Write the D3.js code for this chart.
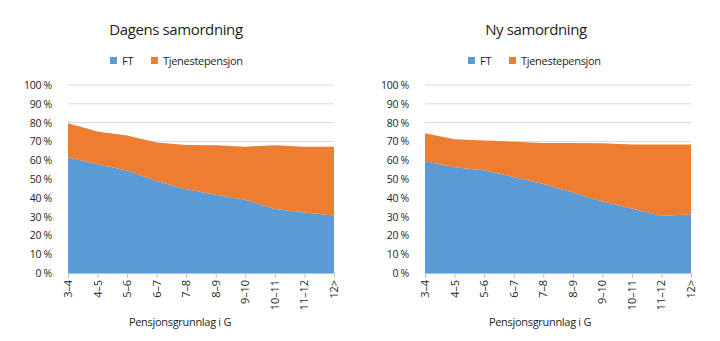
<!DOCTYPE html>
<html lang="no">
<head>
<meta charset="utf-8">
<title>Samordning</title>
<script src="https://cdn.jsdelivr.net/npm/d3@7"></script>
<style>
  body { margin: 0; background: #fff; }
  text { font-family: "Open Sans", "Noto Sans", sans-serif; fill: #231f20; }
</style>
</head>
<body>
<script>

var categories = ["3–4", "4–5", "5–6", "6–7", "7–8", "8–9", "9–10", "10–11", "11–12", "12>"];
var yTicks = [0, 10, 20, 30, 40, 50, 60, 70, 80, 90, 100];

// Dagens samordning
var ftDagens = [61.6, 57.9, 54.5, 49.0, 44.6, 41.6, 38.9, 34.1, 32.2, 30.6];
var tpDagens = [18.1, 17.3, 18.6, 20.4, 23.5, 26.3, 28.3, 33.9, 35.0, 36.6];

// Ny samordning
var ftNy = [59.5, 56.3, 54.7, 51.1, 47.3, 42.8, 38.0, 34.3, 30.4, 31.1];
var tpNy = [14.8, 14.9, 15.8, 18.7, 21.8, 26.3, 31.0, 34.1, 38.0, 37.3];

var seriesNames = ["FT", "Tjenestepensjon"];
var colors = ["#5b9bd5", "#ed7d31"];

var width = 720, height = 341;

var svg = d3.select("body").append("svg")
            .attr("width", width)
            .attr("height", height);

function drawPanel(opts) {
  var g = svg.append("g");

  var x = d3.scalePoint().domain(categories).range([opts.left, opts.right]);
  var y = d3.scaleLinear().domain([0, 100]).range([273, 85]);

  // gridlines
  g.selectAll("line.grid")
   .data(yTicks.slice(1))
   .enter().append("line")
   .attr("x1", opts.left).attr("x2", opts.right)
   .attr("y1", function(d) { return y(d); })
   .attr("y2", function(d) { return y(d); })
   .attr("stroke", "#d9d9d9")
   .attr("stroke-width", 1);

  var rows = categories.map(function(c, i) {
    return { cat: c, FT: opts.ft[i], Tjenestepensjon: opts.tp[i] };
  });
  var stacked = d3.stack().keys(seriesNames)(rows);

  var area = d3.area()
               .x(function(d) { return x(d.data.cat); })
               .y0(function(d) { return y(d[0]); })
               .y1(function(d) { return y(d[1]); });

  g.selectAll("path.area")
   .data(stacked)
   .enter().append("path")
   .attr("d", area)
   .attr("fill", function(d, i) { return colors[i]; });

  // y axis labels
  g.selectAll("text.ytick")
   .data(yTicks)
   .enter().append("text")
   .attr("x", opts.left - 16)
   .attr("y", function(d) { return y(d) + 4; })
   .attr("text-anchor", "end")
   .attr("font-size", 10.5)
   .attr("letter-spacing", -0.3)
   .text(function(d) { return d + " %"; });

  // x axis
  var xAxis = d3.axisBottom(x).tickSize(5).tickSizeOuter(0).tickFormat("");
  var ax = g.append("g").attr("transform", "translate(0," + y(0) + ")").call(xAxis);
  ax.select(".domain").attr("stroke", "#bfbfbf");
  ax.selectAll(".tick line").attr("stroke", "#bfbfbf");

  g.selectAll("text.xtick")
   .data(categories)
   .enter().append("text")
   .attr("transform", function(d) {
     return "translate(" + (x(d) + 4) + "," + 280 + ") rotate(-90)";
   })
   .attr("text-anchor", "end")
   .attr("font-size", 11)
   .attr("letter-spacing", -0.1)
   .text(function(d) { return d; });

  // titles
  g.append("text")
   .attr("x", opts.titleX).attr("y", 35)
   .attr("text-anchor", "middle")
   .attr("font-size", 15)
   .attr("letter-spacing", -0.4)
   .text(opts.title);

  g.append("text")
   .attr("x", opts.titleX + 4).attr("y", 326)
   .attr("text-anchor", "middle")
   .attr("font-size", 11)
   .attr("letter-spacing", -0.3)
   .text("Pensjonsgrunnlag i G");

  // legend
  var lg = g.append("g").attr("transform", "translate(" + opts.legendX + ",57)");
  var offsets = [0, 41];
  seriesNames.forEach(function(name, i) {
    lg.append("rect")
      .attr("x", offsets[i]).attr("y", 0)
      .attr("width", 7).attr("height", 7)
      .attr("fill", colors[i]);
    lg.append("text")
      .attr("x", offsets[i] + 12).attr("y", 7.5)
      .attr("font-size", 11)
      .attr("letter-spacing", -0.3)
      .text(name);
  });
}

drawPanel({ title: "Dagens samordning", left: 68, right: 334, titleX: 176, legendX: 110, ft: ftDagens, tp: tpDagens });
drawPanel({ title: "Ny samordning", left: 425, right: 691, titleX: 536, legendX: 468, ft: ftNy, tp: tpNy });

</script>
</body>
</html>
